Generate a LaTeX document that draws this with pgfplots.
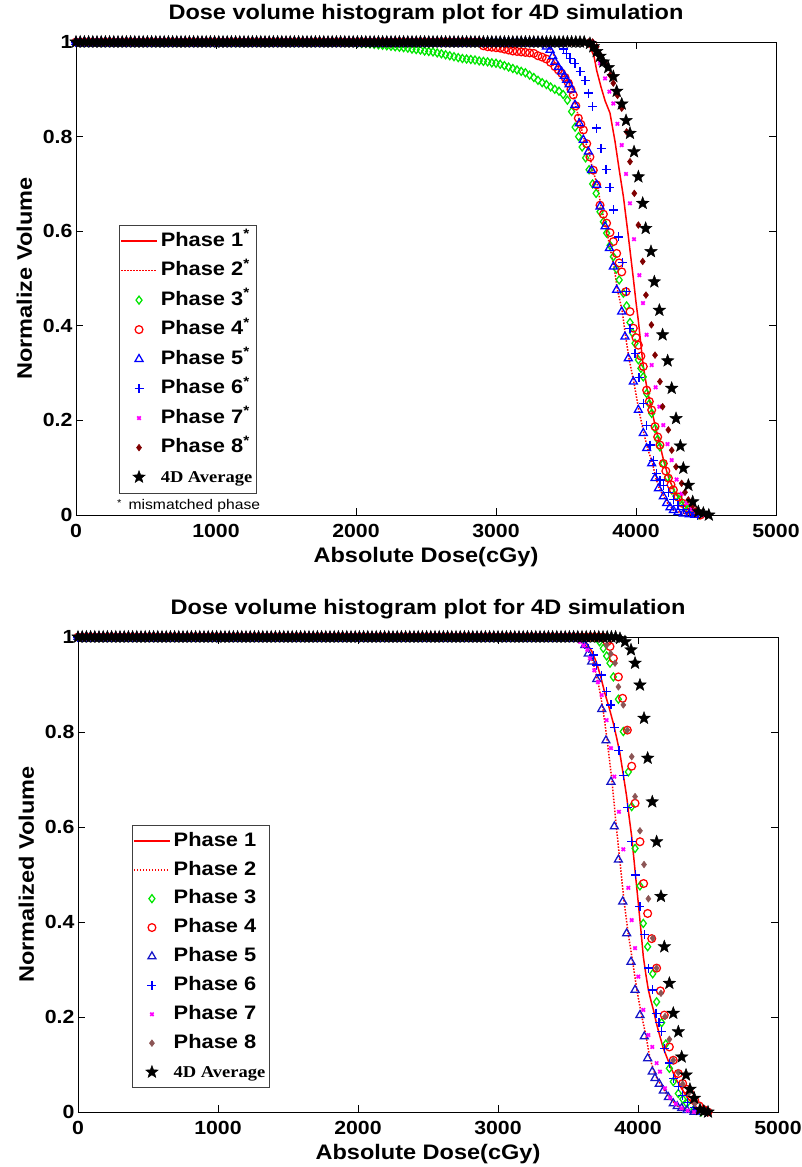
\documentclass[border=0pt]{standalone}
\usepackage{fontspec}
\setmainfont{Liberation Sans}[FakeStretch=1.12]
\newfontfamily\timesb{Liberation Serif}[FakeStretch=1.12]
\usepackage{pgfplots}
\usepackage{pgfplotstable}
\pgfplotsset{compat=1.18}

\definecolor{mgreen}{RGB}{0,230,0}
\definecolor{mblue}{RGB}{0,0,255}
\definecolor{mblueb}{RGB}{20,20,200}
\definecolor{mmaroon}{RGB}{128,0,0}
\definecolor{mbrown}{RGB}{140,85,85}
\definecolor{mmag}{RGB}{255,0,255}

\pgfdeclareplotmark{fivestar}{%
  \pgfpathmoveto{\pgfpointpolar{90}{\pgfplotmarksize}}%
  \pgfpathlineto{\pgfpointpolar{126}{0.42\pgfplotmarksize}}%
  \pgfpathlineto{\pgfpointpolar{162}{\pgfplotmarksize}}%
  \pgfpathlineto{\pgfpointpolar{198}{0.42\pgfplotmarksize}}%
  \pgfpathlineto{\pgfpointpolar{234}{\pgfplotmarksize}}%
  \pgfpathlineto{\pgfpointpolar{270}{0.42\pgfplotmarksize}}%
  \pgfpathlineto{\pgfpointpolar{306}{\pgfplotmarksize}}%
  \pgfpathlineto{\pgfpointpolar{342}{0.42\pgfplotmarksize}}%
  \pgfpathlineto{\pgfpointpolar{18}{\pgfplotmarksize}}%
  \pgfpathlineto{\pgfpointpolar{54}{0.42\pgfplotmarksize}}%
  \pgfpathclose
  \pgfusepathqfillstroke}

% plateau (volume = 1) sample points
\pgfplotstableread[row sep=\\]{
d v\\
0 1\\30 1\\60 1\\90 1\\120 1\\150 1\\180 1\\210 1\\240 1\\270 1\\
300 1\\330 1\\360 1\\390 1\\420 1\\450 1\\480 1\\510 1\\540 1\\570 1\\
600 1\\630 1\\660 1\\690 1\\720 1\\750 1\\780 1\\810 1\\840 1\\870 1\\
900 1\\930 1\\960 1\\990 1\\1020 1\\1050 1\\1080 1\\1110 1\\1140 1\\1170 1\\
1200 1\\1230 1\\1260 1\\1290 1\\1320 1\\1350 1\\1380 1\\1410 1\\1440 1\\1470 1\\
1500 1\\1530 1\\1560 1\\1590 1\\1620 1\\1650 1\\1680 1\\1710 1\\1740 1\\1770 1\\
1800 1\\1830 1\\1860 1\\1890 1\\1920 1\\1950 1\\1980 1\\2010 1\\2040 1\\2070 1\\
2100 1\\2130 1\\2160 1\\2190 1\\2220 1\\2250 1\\2280 1\\2310 1\\2340 1\\2370 1\\
2400 1\\2430 1\\2460 1\\2490 1\\2520 1\\2550 1\\2580 1\\2610 1\\2640 1\\2670 1\\
2700 1\\2730 1\\2760 1\\2790 1\\2820 1\\2850 1\\2880 1\\2910 1\\2940 1\\2970 1\\
3000 1\\3030 1\\3060 1\\3090 1\\3120 1\\3150 1\\3180 1\\3210 1\\3240 1\\3270 1\\
3300 1\\3330 1\\3360 1\\3390 1\\3420 1\\3450 1\\3480 1\\3510 1\\3540 1\\3570 1\\
3600 1\\3630 1\\3660 1\\3690 1\\3720 1\\3750 1\\3780 1\\3810 1\\3840 1\\3870 1\\
}\flat

\pgfplotsset{
  mk/.style={only marks, mark options={solid, line width=1.25pt}},
  ph1/.style={red, line width=1.5pt, no markers},
  ph2/.style={red, line width=1.5pt, dash pattern=on 1.5pt off 1.5pt, no markers},
  ph3/.style={mk, mgreen, mark=diamond, mark size=4pt},
  ph4/.style={mk, red, mark=o, mark size=3.9pt},
  ph5/.style={mk, mblue, mark=triangle, mark size=4.6pt},
  ph6/.style={mk, mblue, mark=+, mark size=4.5pt},
  ph7/.style={mk, mmag, mark=x, mark size=2.4pt, mark options={solid, line width=1.7pt}},
  ph8/.style={mk, mmaroon, mark=diamond*, mark size=3.3pt, mark options={solid, line width=0.6pt}},
  phavg/.style={mk, black, mark=fivestar, mark size=6.6pt, mark options={solid, line width=0.4pt}},
  dvh/.style={
    scale only axis, width=700pt,
    xmin=0, xmax=5000, ymin=0, ymax=1,
    xtick={0,1000,2000,3000,4000,5000},
    ytick={0,0.2,0.4,0.6,0.8,1},
    scaled ticks=false,
    /pgf/number format/1000 sep={},
    /pgf/number format/assume math mode=true,
    tick align=inside, tick pos=both, major tick length=7pt,
    tick style={black, line width=0.7pt},
    axis line style={black, line width=0.8pt},
    clip=false,
    tick label style={font=\fontsize{19}{21}\selectfont\bfseries},
    xticklabel style={anchor=base, yshift=-22pt},
    label style={font=\fontsize{21}{23}\selectfont\bfseries},
    title style={font=\fontsize{21}{23}\selectfont\bfseries, at={(axis description cs:0.5,1)}, anchor=base, yshift=17pt},
    xlabel style={at={(axis description cs:0.5,0)}, anchor=base, yshift=-47pt},
    ylabel style={at={(axis description cs:-0.0629,0.5)}, anchor=base},
    legend cell align=left,
    legend image code/.code={\draw[mark repeat=2,mark phase=2,##1] plot coordinates {(0pt,0pt) (18pt,0pt) (36pt,0pt)};},
    legend style={anchor=north west, draw=black!75, line width=0.6pt, fill=white,
      font=\fontsize{19.5}{21}\selectfont\bfseries, inner sep=1pt, row sep=0pt,
      nodes={text height=14pt, text depth=3.5pt, inner ysep=6pt, inner xsep=3pt},
      /tikz/every even column/.append style={column sep=4pt}},
  }
}

\begin{document}
\begin{tikzpicture}
\path[use as bounding box] (0,0) rectangle (802pt,-1167pt);

% ---------------- top plot ----------------
\begin{axis}[dvh, at={(76pt,-515pt)}, anchor=south west, height=473pt,
  title={Dose volume histogram plot for 4D simulation},
  xlabel={Absolute Dose(cGy)}, ylabel={Normalize Volume},
  legend style={at={(axis description cs:0.0614,0.613)}}]

\addplot[ph1] coordinates {(0,1)(3640,1)(3670,0.99)(3700,0.97)(3719,0.94)(3750,0.905)(3780,0.875)(3814,0.85)(3850,0.79)(3880,0.73)(3910,0.673)(3945,0.59)(3981,0.5)(4000,0.45)(4017,0.41)(4035,0.36)(4052,0.314)(4080,0.265)(4112,0.222)(4140,0.185)(4171,0.148)(4200,0.112)(4231,0.081)(4270,0.052)(4314,0.032)(4360,0.016)(4400,0.008)(4450,0.002)(4500,0)};
\addlegendentry{Phase 1\textsuperscript{*}}

\addplot[ph2] coordinates {(0,1)(3330,1)(3390,0.985)(3470,0.94)(3545,0.9)(3570,0.865)(3600,0.828)(3630,0.795)(3665,0.767)(3690,0.73)(3725,0.697)(3750,0.652)(3785,0.61)(3815,0.564)(3843,0.525)(3868,0.476)(3902,0.43)(3926,0.377)(3950,0.331)(3985,0.28)(4020,0.222)(4056,0.173)(4082,0.141)(4118,0.109)(4142,0.078)(4166,0.056)(4200,0.039)(4225,0.025)(4270,0.01)(4340,0.003)(4430,0)};
\addlegendentry{Phase 2\textsuperscript{*}}

\addplot[ph3, forget plot, restrict x to domain=0:1990] table[x=d,y=v] {\flat};
\addplot[ph3] coordinates {(2010,0.998)(2040,0.997)(2070,0.997)(2100,0.996)(2130,0.995)(2160,0.994)(2190,0.993)(2220,0.992)(2250,0.991)(2280,0.99)(2310,0.989)(2340,0.988)(2370,0.987)(2400,0.985)(2430,0.984)(2460,0.983)(2490,0.981)(2520,0.98)(2550,0.979)(2580,0.977)(2610,0.975)(2640,0.973)(2670,0.971)(2700,0.969)(2730,0.967)(2760,0.965)(2790,0.964)(2820,0.963)(2850,0.962)(2880,0.96)(2910,0.959)(2940,0.958)(2970,0.956)(3000,0.955)(3030,0.953)(3060,0.95)(3090,0.947)(3120,0.944)(3150,0.941)(3180,0.938)(3210,0.935)(3240,0.93)(3270,0.925)(3300,0.919)(3330,0.914)(3360,0.91)(3390,0.905)(3420,0.9)(3450,0.896)(3480,0.889)(3510,0.877)(3540,0.853)(3565,0.82)(3590,0.8)(3615,0.778)(3640,0.755)(3665,0.73)(3690,0.7)(3715,0.68)(3743,0.641)(3767,0.62)(3790,0.596)(3815,0.57)(3838,0.546)(3860,0.52)(3880,0.497)(3910,0.469)(3933,0.442)(3957,0.407)(3975,0.385)(3993,0.363)(4017,0.328)(4035,0.31)(4052,0.292)(4076,0.257)(4095,0.235)(4112,0.215)(4136,0.183)(4155,0.16)(4171,0.144)(4195,0.109)(4225,0.08)(4255,0.053)(4285,0.04)(4314,0.032)(4345,0.02)(4375,0.012)(4410,0.006)(4450,0)};
\addlegendentry{Phase 3\textsuperscript{*}}

\addplot[ph4, forget plot, restrict x to domain=0:2890] table[x=d,y=v] {\flat};
\addplot[ph4] coordinates {(2910,0.992)(2940,0.99)(2970,0.989)(3000,0.988)(3030,0.987)(3060,0.985)(3090,0.983)(3120,0.981)(3150,0.98)(3180,0.979)(3210,0.978)(3240,0.977)(3270,0.976)(3300,0.971)(3330,0.968)(3360,0.964)(3390,0.957)(3421,0.948)(3445,0.941)(3469,0.934)(3493,0.925)(3517,0.913)(3535,0.9)(3552,0.888)(3570,0.865)(3588,0.839)(3606,0.826)(3624,0.814)(3648,0.785)(3671,0.757)(3695,0.729)(3719,0.698)(3743,0.655)(3767,0.636)(3790,0.617)(3814,0.597)(3838,0.578)(3862,0.553)(3880,0.533)(3898,0.514)(3928,0.472)(3957,0.43)(3981,0.395)(4000,0.375)(4017,0.359)(4035,0.336)(4052,0.314)(4076,0.264)(4095,0.24)(4112,0.222)(4136,0.187)(4155,0.165)(4171,0.148)(4195,0.109)(4213,0.093)(4231,0.078)(4250,0.064)(4267,0.053)(4300,0.038)(4330,0.025)(4365,0.015)(4400,0.008)(4430,0.004)(4460,0)};
\addlegendentry{Phase 4\textsuperscript{*}}

\addplot[ph5, forget plot, restrict x to domain=0:3340] table[x=d,y=v] {\flat};
\addplot[ph5] coordinates {(3360,0.99)(3386,0.983)(3405,0.97)(3421,0.958)(3445,0.947)(3469,0.937)(3487,0.928)(3505,0.92)(3522,0.91)(3540,0.899)(3564,0.867)(3595,0.828)(3624,0.793)(3660,0.768)(3683,0.729)(3719,0.698)(3743,0.652)(3779,0.61)(3810,0.564)(3838,0.525)(3862,0.476)(3898,0.43)(3921,0.377)(3945,0.331)(3981,0.282)(4017,0.222)(4052,0.173)(4076,0.141)(4112,0.109)(4136,0.078)(4160,0.056)(4195,0.039)(4219,0.025)(4243,0.016)(4267,0.01)(4300,0.006)(4338,0.003)(4380,0.001)(4420,0)};
\addlegendentry{Phase 5\textsuperscript{*}}

\addplot[ph6, forget plot, restrict x to domain=0:3460] table[x=d,y=v] {\flat};
\addplot[ph6] coordinates {(3480,0.985)(3505,0.976)(3529,0.965)(3564,0.955)(3600,0.937)(3636,0.918)(3660,0.892)(3690,0.863)(3719,0.818)(3750,0.775)(3786,0.731)(3814,0.693)(3838,0.645)(3874,0.588)(3905,0.534)(3933,0.472)(3957,0.395)(3993,0.342)(4022,0.29)(4052,0.236)(4076,0.19)(4100,0.148)(4124,0.115)(4148,0.088)(4172,0.074)(4195,0.063)(4230,0.047)(4267,0.032)(4300,0.02)(4340,0.011)(4380,0.005)(4440,0)};
\addlegendentry{Phase 6\textsuperscript{*}}

\addplot[ph7, forget plot, restrict x to domain=0:3700] table[x=d,y=v] {\flat};
\addplot[ph7] coordinates {(3715,0.985)(3743,0.955)(3779,0.923)(3810,0.895)(3838,0.87)(3867,0.827)(3898,0.782)(3929,0.721)(3957,0.659)(3986,0.583)(4024,0.507)(4050,0.448)(4076,0.381)(4112,0.317)(4140,0.27)(4167,0.229)(4195,0.19)(4225,0.15)(4255,0.116)(4290,0.075)(4326,0.045)(4360,0.025)(4400,0.012)(4440,0.005)(4480,0)};
\addlegendentry{Phase 7\textsuperscript{*}}

\addplot[ph8, forget plot, restrict x to domain=0:3700] table[x=d,y=v] {\flat};
\addplot[ph8] coordinates {(3719,0.99)(3743,0.973)(3765,0.96)(3790,0.951)(3815,0.93)(3838,0.913)(3868,0.887)(3898,0.86)(3933,0.81)(3957,0.747)(3988,0.68)(4017,0.613)(4048,0.536)(4071,0.465)(4110,0.402)(4136,0.338)(4171,0.282)(4190,0.229)(4231,0.18)(4255,0.137)(4286,0.102)(4326,0.067)(4350,0.048)(4374,0.032)(4405,0.02)(4433,0.011)(4465,0.004)(4500,0)};
\addlegendentry{Phase 8\textsuperscript{*}}

\addplot[phavg, forget plot, restrict x to domain=0:3640] table[x=d,y=v] {\flat};
\addplot[phavg] coordinates {(3671,0.997)(3695,0.99)(3719,0.98)(3743,0.97)(3767,0.958)(3802,0.946)(3838,0.927)(3862,0.896)(3898,0.869)(3929,0.834)(3957,0.807)(3986,0.768)(4017,0.715)(4048,0.659)(4069,0.606)(4107,0.557)(4131,0.493)(4167,0.433)(4190,0.381)(4226,0.326)(4255,0.268)(4286,0.204)(4317,0.146)(4338,0.099)(4374,0.063)(4405,0.028)(4445,0.007)(4481,0.004)(4520,0)};
\addlegendentry{{\timesb\fontsize{16.5}{18}\selectfont 4D Average}}

\node[anchor=base west, font=\fontsize{14}{15}\selectfont, inner xsep=1pt, inner ysep=2pt, fill=white] at (axis description cs:0.0572,0.0106) {\raisebox{3pt}{\fontsize{10}{10}\selectfont *}\hspace{7pt}mismatched phase};
\end{axis}

% ---------------- bottom plot ----------------
\begin{axis}[dvh, at={(78pt,-1112pt)}, anchor=south west, height=475pt,
  title={Dose volume histogram plot for 4D simulation},
  xlabel={Absolute Dose(cGy)}, ylabel={Normalized Volume},
  legend style={at={(axis description cs:0.077,0.604)}, nodes={inner ysep=5.7pt}}]

\addplot[ph1] coordinates {(0,1)(3600,1)(3633,0.987)(3670,0.97)(3705,0.945)(3735,0.915)(3764,0.881)(3795,0.85)(3824,0.818)(3848,0.787)(3871,0.755)(3895,0.71)(3919,0.664)(3937,0.62)(3955,0.58)(3970,0.535)(3985,0.49)(4002,0.44)(4020,0.385)(4038,0.327)(4056,0.29)(4074,0.257)(4092,0.235)(4110,0.215)(4133,0.185)(4157,0.159)(4180,0.135)(4205,0.116)(4240,0.09)(4276,0.067)(4310,0.05)(4348,0.032)(4400,0.014)(4443,0.004)(4500,0)};
\addlegendentry{Phase 1}

\addplot[ph2] coordinates {(0,1)(3590,1)(3630,0.983)(3680,0.945)(3715,0.905)(3750,0.848)(3780,0.782)(3815,0.695)(3842,0.61)(3870,0.53)(3900,0.445)(3930,0.376)(3962,0.316)(3992,0.257)(4025,0.204)(4058,0.159)(4085,0.113)(4115,0.085)(4140,0.068)(4170,0.055)(4200,0.04)(4240,0.025)(4280,0.013)(4330,0.005)(4400,0)};
\addlegendentry{Phase 2}

\addplot[ph3, forget plot, restrict x to domain=0:3710] table[x=d,y=v] {\flat};
\addplot[ph3] coordinates {(3725,0.99)(3752,0.976)(3776,0.96)(3800,0.945)(3824,0.916)(3860,0.869)(3895,0.801)(3931,0.716)(3955,0.643)(3979,0.555)(4014,0.476)(4038,0.397)(4069,0.348)(4105,0.291)(4133,0.232)(4169,0.188)(4198,0.143)(4224,0.092)(4252,0.064)(4288,0.039)(4320,0.027)(4348,0.018)(4400,0.006)(4450,0)};
\addlegendentry{Phase 3}

\addplot[ph4, forget plot, restrict x to domain=0:3770] table[x=d,y=v] {\flat};
\addplot[ph4] coordinates {(3780,0.99)(3800,0.98)(3824,0.955)(3860,0.916)(3890,0.871)(3924,0.804)(3955,0.728)(3979,0.65)(4014,0.569)(4040,0.481)(4069,0.418)(4098,0.365)(4133,0.303)(4160,0.255)(4188,0.204)(4224,0.137)(4252,0.109)(4288,0.081)(4319,0.06)(4345,0.048)(4371,0.039)(4405,0.025)(4436,0.013)(4470,0.005)(4500,0)};
\addlegendentry{Phase 4}

\addplot[ph5, mblueb, forget plot, restrict x to domain=0:3590] table[x=d,y=v] {\flat};
\addplot[ph5, mblueb] coordinates {(3621,0.983)(3645,0.965)(3669,0.948)(3705,0.911)(3741,0.848)(3771,0.782)(3807,0.695)(3831,0.601)(3860,0.531)(3891,0.443)(3919,0.376)(3950,0.316)(3979,0.257)(4014,0.204)(4045,0.159)(4069,0.113)(4102,0.085)(4121,0.071)(4152,0.059)(4181,0.045)(4217,0.031)(4252,0.018)(4280,0.012)(4312,0.008)(4350,0.004)(4400,0)};
\addlegendentry{Phase 5}

\addplot[ph6, forget plot, restrict x to domain=0:3590] table[x=d,y=v] {\flat};
\addplot[ph6] coordinates {(3625,0.99)(3645,0.976)(3681,0.962)(3705,0.941)(3741,0.92)(3776,0.885)(3807,0.857)(3831,0.81)(3864,0.761)(3895,0.709)(3926,0.641)(3955,0.569)(3983,0.499)(4014,0.432)(4045,0.373)(4074,0.303)(4102,0.257)(4129,0.208)(4150,0.188)(4169,0.169)(4188,0.134)(4224,0.103)(4252,0.071)(4288,0.053)(4320,0.035)(4355,0.02)(4400,0.009)(4440,0.003)(4480,0)};
\addlegendentry{Phase 6}

\addplot[ph7, forget plot, restrict x to domain=0:3560] table[x=d,y=v] {\flat};
\addplot[ph7] coordinates {(3586,0.99)(3612,0.982)(3638,0.973)(3657,0.955)(3688,0.93)(3714,0.905)(3741,0.878)(3776,0.825)(3807,0.766)(3831,0.706)(3864,0.632)(3895,0.553)(3931,0.472)(3955,0.404)(3979,0.345)(4002,0.285)(4038,0.215)(4074,0.162)(4102,0.137)(4133,0.103)(4157,0.085)(4193,0.05)(4230,0.03)(4270,0.017)(4310,0.008)(4355,0.003)(4400,0)};
\addlegendentry{Phase 7}

\addplot[ph8, mbrown, forget plot, restrict x to domain=0:3750] table[x=d,y=v] {\flat};
\addplot[ph8, mbrown] coordinates {(3776,0.983)(3805,0.965)(3836,0.945)(3860,0.895)(3895,0.857)(3924,0.804)(3955,0.748)(3979,0.664)(4014,0.592)(4043,0.521)(4074,0.449)(4105,0.366)(4133,0.303)(4164,0.25)(4193,0.201)(4224,0.153)(4252,0.109)(4288,0.083)(4319,0.059)(4360,0.039)(4407,0.018)(4445,0.007)(4480,0)};
\addlegendentry{Phase 8}

\addplot[phavg, forget plot, restrict x to domain=0:3850] table[x=d,y=v] {\flat};
\addplot[phavg] coordinates {(3871,0.997)(3907,0.99)(3950,0.973)(3979,0.945)(4014,0.899)(4043,0.829)(4069,0.745)(4102,0.653)(4133,0.569)(4164,0.454)(4188,0.348)(4224,0.271)(4252,0.208)(4288,0.169)(4312,0.116)(4343,0.078)(4371,0.048)(4402,0.029)(4443,0.005)(4470,0.002)(4500,0)};
\addlegendentry{{\timesb\fontsize{16.5}{18}\selectfont 4D Average}}
\end{axis}
\end{tikzpicture}
\end{document}
